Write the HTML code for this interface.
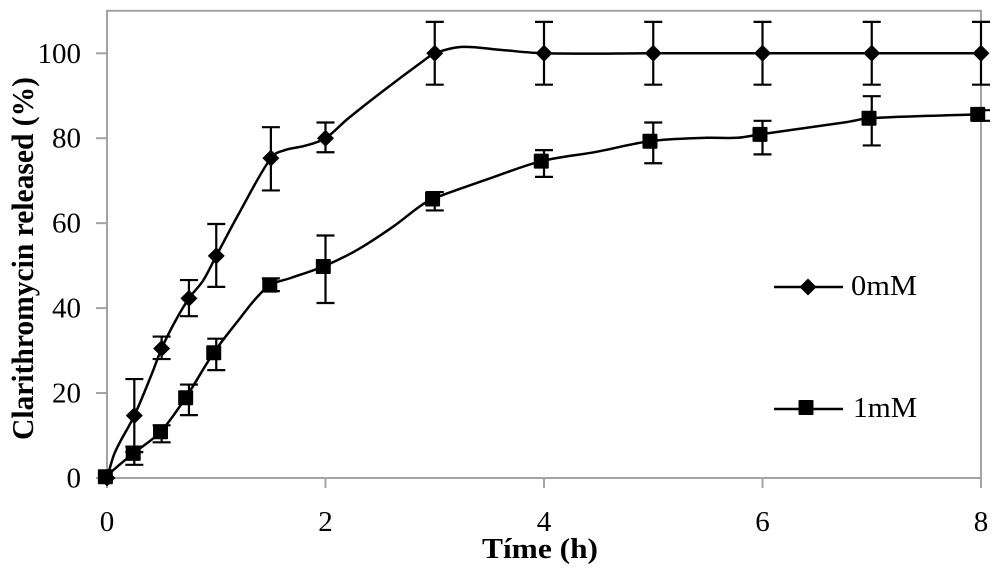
<!DOCTYPE html>
<html>
<head>
<meta charset="utf-8">
<title>Clarithromycin release</title>
<style>
html,body{margin:0;padding:0;background:#fff;width:1000px;height:574px;overflow:hidden}
svg{display:block}
text{font-family:"Liberation Serif",serif;fill:#000}
</style>
</head>
<body>
<svg id="chart" width="1000" height="574" viewBox="0 0 1000 574" xmlns="http://www.w3.org/2000/svg">
  <text x="540" y="558" text-anchor="middle" font-size="29" font-weight="bold" textLength="116" lengthAdjust="spacingAndGlyphs">Tíme (h)</text>
  <text transform="translate(33 258.5) rotate(-90)" text-anchor="middle" font-size="31" font-weight="bold" textLength="363" lengthAdjust="spacingAndGlyphs">Clarithromycin released (%)</text>
</svg>
<script>
var xTicks = [0, 2, 4, 6, 8];
var yTicks = [0, 20, 40, 60, 80, 100];
var xMax = 8;
var yMax = 110;

var times = [0, 0.25, 0.5, 0.75, 1, 1.5, 2, 3, 4, 5, 6, 7, 8];

var values0mM = [0, 14.7, 30.5, 42.3, 52.3, 75.3, 80, 100, 100, 100, 100, 100, 100];
var upper0mM = [0, 23.3, 33.3, 46.6, 59.8, 82.6, 83.7, 107.4, 107.4, 107.4, 107.4, 107.4, 107.4];
var lower0mM = [0, 6.1, 28, 38.1, 45, 67.7, 76.7, 92.6, 92.6, 92.6, 92.6, 92.6, 92.6];
var curveTimes0mM = [0.07, 0.41, 0.62, 0.88, 1.21, 1.63, 1.81, 2.2, 2.5, 2.9, 3.25, 3.6];
var curveValues0mM = [5.9, 24.5, 36.7, 46.5, 62.4, 77.2, 78.2, 84.5, 90.6, 98.3, 101.5, 100.8];

var markerTimes1mM = [-0.015, 0.24, 0.49, 0.72, 0.977, 1.49, 1.98, 2.98, 3.975, 4.97, 5.977, 6.975, 7.97];
var values1mM = [0.3, 5.8, 10.9, 18.9, 29.5, 45.4, 49.8, 65.7, 74.6, 79.3, 80.9, 84.7, 85.6];
var upper1mM = [0.3, 7.4, 12.4, 22, 32.8, 47, 57.1, 67.3, 77.2, 83.7, 84.1, 89.9, 86.6];
var lower1mM = [0.3, 3.1, 8.4, 14.8, 25.4, 44, 41.2, 63, 70.9, 74.1, 76.2, 78.3, 84.1];
var curveTimes1mM = [1.22, 1.35, 1.67, 2.29, 2.62, 2.86, 3.49, 4.48, 5.49, 5.77, 6.77];
var curveValues1mM = [37.7, 41.9, 47, 53.7, 59.2, 63.9, 70.4, 76.8, 80.1, 80.1, 83.8];

var svg = document.getElementById('chart');
var NS = 'http://www.w3.org/2000/svg';

function sx(t) { return 107 + t * (981 - 107) / xMax; }
function sy(v) { return 478 - v * 467.2 / yMax; }

function make(tag, attrs) {
  var el = document.createElementNS(NS, tag);
  for (var k in attrs) el.setAttribute(k, attrs[k]);
  svg.appendChild(el);
  return el;
}

function smoothPath(ts, vs, extraT, extraV) {
  var pts = [];
  ts.forEach(function (t, i) { pts.push([sx(t), sy(vs[i])]); });
  extraT.forEach(function (t, i) { pts.push([sx(t), sy(extraV[i])]); });
  pts.sort(function (a, b) { return a[0] - b[0]; });
  function slope(i) {
    var a = pts[Math.max(i - 1, 0)], b = pts[Math.min(i + 1, pts.length - 1)];
    return (b[1] - a[1]) / (b[0] - a[0]);
  }
  var d = 'M' + pts[0][0] + ' ' + pts[0][1];
  for (var i = 0; i < pts.length - 1; i++) {
    var p1 = pts[i], p2 = pts[i + 1], dx = (p2[0] - p1[0]) / 3;
    d += 'C' + (p1[0] + dx) + ' ' + (p1[1] + slope(i) * dx) + ' ' +
         (p2[0] - dx) + ' ' + (p2[1] - slope(i + 1) * dx) + ' ' + p2[0] + ' ' + p2[1];
  }
  return d;
}

/* plot frame */
var frame = make('rect', {x: sx(0), y: sy(yMax), width: sx(xMax) - sx(0), height: sy(0) - sy(yMax), fill: 'none', stroke: '#a3a3a3', 'stroke-width': 2});



/* y axis */
yTicks.forEach(function (v) {
  var tick = make('line', {x1: 96, x2: sx(0), y1: sy(v), y2: sy(v), stroke: '#a3a3a3', 'stroke-width': 2});
  
  
  var label = make('text', {x: 81, y: sy(v) + 9.5, 'text-anchor': 'end', 'font-size': 29});
  
  
  label.textContent = v;
});

/* x axis */
xTicks.forEach(function (t) {
  var tick = make('line', {x1: sx(t), x2: sx(t), y1: sy(0), y2: 488, stroke: '#a3a3a3', 'stroke-width': 2});
  
  
  var label = make('text', {x: sx(t), y: 531, 'text-anchor': 'middle', 'font-size': 29});
  
  
  label.textContent = t;
});

function errorBar(t, hi, lo) {
  var x = sx(t);
  var d = 'M' + x + ' ' + sy(hi) + 'V' + sy(lo) +
          'M' + (x - 9) + ' ' + sy(hi) + 'H' + (x + 9) +
          'M' + (x - 9) + ' ' + sy(lo) + 'H' + (x + 9);
  return make('path', {d: d, fill: 'none', stroke: '#000', 'stroke-width': 2.2});
}

function diamond(x, y) {
  return make('path', {d: 'M' + (x - 8.5) + ' ' + y + 'L' + x + ' ' + (y - 8.5) + 'L' + (x + 8.5) + ' ' + y + 'L' + x + ' ' + (y + 8.5) + 'Z', fill: '#000'});
}

function square(x, y) {
  return make('rect', {x: x - 7.5, y: y - 7.5, width: 15, height: 15, rx: 1, fill: '#000'});
}

/* series 0mM */
times.forEach(function (t, i) {
  if (upper0mM[i] === lower0mM[i]) return;
  var bar = errorBar(t, upper0mM[i], lower0mM[i]);
  
  
});
var line0 = make('path', {d: smoothPath(times, values0mM, curveTimes0mM, curveValues0mM), fill: 'none', stroke: '#000', 'stroke-width': 2.5});


times.forEach(function (t, i) {
  var m = diamond(sx(t), sy(values0mM[i]));
  
  
});

/* series 1mM */
times.forEach(function (t, i) {
  if (upper1mM[i] === lower1mM[i]) return;
  var bar = errorBar(t, upper1mM[i], lower1mM[i]);
  
  
});
var line1 = make('path', {d: smoothPath(markerTimes1mM, values1mM, curveTimes1mM, curveValues1mM), fill: 'none', stroke: '#000', 'stroke-width': 2.5});


markerTimes1mM.forEach(function (t, i) {
  var m = square(sx(t), sy(values1mM[i]));
  
  
});

/* legend */
var leg0Line = make('line', {x1: 774, x2: 843, y1: 287, y2: 287, stroke: '#000', 'stroke-width': 2.5});


var leg0Mark = diamond(808, 287);


var leg0Text = make('text', {x: 851, y: 295, 'font-size': 28, textLength: 66, lengthAdjust: 'spacingAndGlyphs'});


leg0Text.textContent = '0mM';

var leg1Line = make('line', {x1: 774, x2: 843, y1: 409, y2: 409, stroke: '#000', 'stroke-width': 2.5});


var leg1Mark = square(806, 407.5);


var leg1Text = make('text', {x: 853, y: 417, 'font-size': 28, textLength: 64, lengthAdjust: 'spacingAndGlyphs'});


leg1Text.textContent = '1mM';
</script>
</body>
</html>
